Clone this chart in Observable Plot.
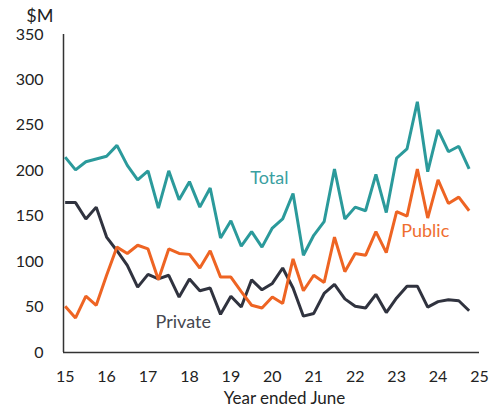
<!DOCTYPE html>
<html>
<head>
<meta charset="utf-8">
<script src="https://cdn.jsdelivr.net/npm/d3@7"></script>
<script src="https://cdn.jsdelivr.net/npm/@observablehq/plot@0.6"></script>
<style>
  html, body { margin: 0; padding: 0; background: #fff; }
  #chart { width: 503px; height: 408px; }
</style>
</head>
<body>
<div id="chart"></div>
<script>
const quarters = [15, 15.25, 15.5, 15.75, 16, 16.25, 16.5, 16.75, 17, 17.25,
  17.5, 17.75, 18, 18.25, 18.5, 18.75, 19, 19.25, 19.5, 19.75,
  20, 20.25, 20.5, 20.75, 21, 21.25, 21.5, 21.75, 22, 22.25,
  22.5, 22.75, 23, 23.25, 23.5, 23.75, 24, 24.25, 24.5, 24.75];
const totalVals = [215, 201, 210, 213, 216, 228, 206, 190, 200, 159,
  200, 168, 188, 160, 181, 126, 145, 117, 133, 116,
  137, 147, 175, 107, 129, 144, 202, 147, 160, 156,
  196, 154, 214, 224, 276, 199, 245, 221, 227, 202];
const publicVals = [51, 38, 62, 52, 85, 116, 109, 118, 114, 80,
  114, 109, 108, 93, 112, 83, 83, 67, 52, 49,
  61, 54, 103, 68, 85, 77, 127, 89, 109, 107,
  133, 110, 155, 150, 202, 148, 190, 164, 171, 156];
const privateVals = [165, 165, 147, 160, 127, 112, 96, 72, 86, 81,
  85, 61, 81, 68, 71, 42, 62, 50, 80, 69,
  76, 93, 71, 40, 43, 65, 75, 59, 51, 49,
  64, 44, 60, 73, 73, 50, 56, 58, 57, 46];
const xTicks = [15, 16, 17, 18, 19, 20, 21, 22, 23, 24, 25];
const yTicks = [0, 50, 100, 150, 200, 250, 300, 350];
const seriesLabels = [
  {name: "Total", q: 19.93, v: 192},
  {name: "Public", q: 23.69, v: 133},
  {name: "Private", q: 17.85, v: 33}
];

const colors = {Total: "#2b9a9b", Public: "#ee6423", Private: "#30333f"};
const textColors = {Total: "#3aa0a1", Public: "#ef6e30", Private: "#45474f"};

const rows = (vals) => quarters.map((q, i) => ({q, v: vals[i]}));
const xDomain = [14.96, 25];

const chart = Plot.plot({
  width: 503,
  height: 408,
  marginLeft: 63,
  marginRight: 24,
  marginTop: 34,
  marginBottom: 56,
  style: {fontFamily: "Lato, 'Open Sans', sans-serif", fontSize: "16px", color: "#222", background: "#fff"},
  x: {domain: xDomain, label: null},
  y: {domain: [0, 350], label: null},
  marks: [
    Plot.axisY({ticks: yTicks, tickSize: 0, tickPadding: 20, label: null, fontSize: 16, color: "#222"}),
    Plot.axisX({ticks: xTicks, tickSize: 0, tickPadding: 18, label: null, fontSize: 16, color: "#222", tickFormat: d => String(d)}),
    Plot.ruleX([xDomain[0]], {stroke: "#333", strokeWidth: 1.5}),
    Plot.ruleY([0], {stroke: "#333", strokeWidth: 1.5}),
    Plot.line(rows(privateVals), {x: "q", y: "v", stroke: colors.Private, strokeWidth: 3, strokeLinejoin: "miter", strokeLinecap: "butt"}),
    Plot.line(rows(publicVals), {x: "q", y: "v", stroke: colors.Public, strokeWidth: 3, strokeLinejoin: "miter", strokeLinecap: "butt"}),
    Plot.line(rows(totalVals), {x: "q", y: "v", stroke: colors.Total, strokeWidth: 3, strokeLinejoin: "miter", strokeLinecap: "butt"}),
    Plot.text(seriesLabels, {x: "q", y: "v", text: "name", fill: d => textColors[d.name], fontSize: 18, textAnchor: "middle", lineAnchor: "middle"}),
    Plot.text(["$M"], {frameAnchor: "top-left", text: d => d, dx: -10, dy: -18, textAnchor: "end", lineAnchor: "middle", fontSize: 18, fill: "#222"}),
    Plot.text(["Year ended June"], {frameAnchor: "bottom", text: d => d, dx: 13, dy: 46, lineAnchor: "middle", fontSize: 17, fill: "#222"})
  ]
});
document.getElementById("chart").appendChild(chart);
</script>
</body>
</html>
